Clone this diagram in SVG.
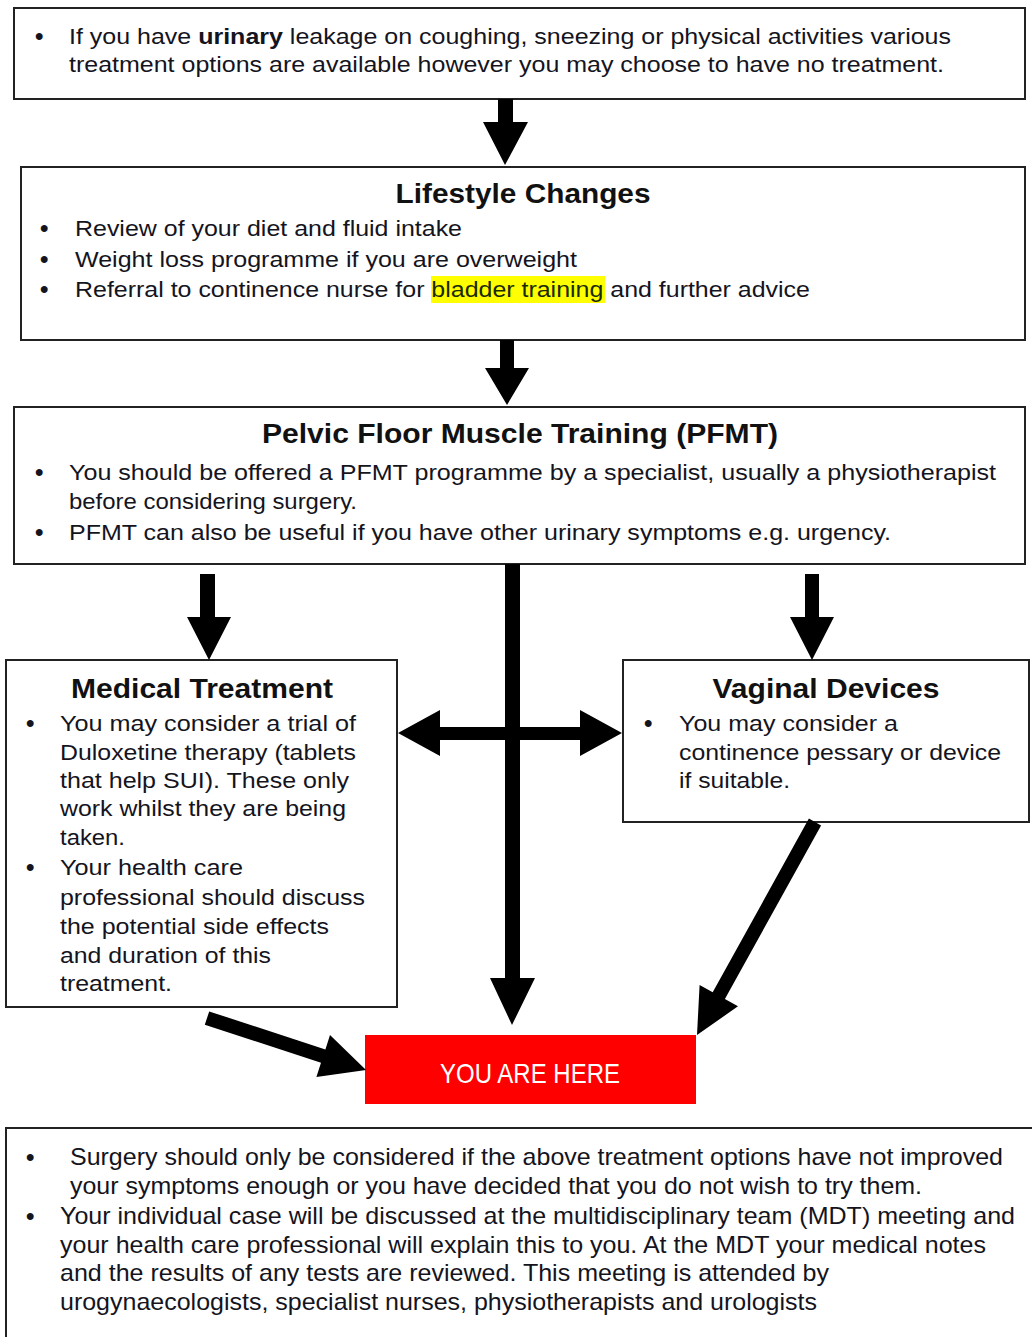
<svg xmlns="http://www.w3.org/2000/svg" width="1032" height="1337" viewBox="0 0 1032 1337">
<style>
.box{fill:#fff;stroke:#222;stroke-width:2}
.t{font-family:"Liberation Sans",Arial,sans-serif;font-size:22px;fill:#141420}
.b{font-family:"Liberation Sans",Arial,sans-serif;font-size:24px;font-weight:bold;fill:#141420}
.h{font-family:"Liberation Sans",Arial,sans-serif;font-size:27px;font-weight:bold;fill:#111;text-anchor:middle}
.n{font-family:"Liberation Sans",Arial,sans-serif;font-size:24px;fill:#141420}
.arrow{fill:#000}
</style>
<rect width="1032" height="1337" fill="#fff"/>
<g id="node-intro">
<rect class="box" x="14" y="8" width="1011" height="91"/>
<text class="b" x="35" y="44">•</text>
<text class="t" x="69" y="44" textLength="882" lengthAdjust="spacingAndGlyphs">If you have <tspan font-weight="bold">urinary</tspan> leakage on coughing, sneezing or physical activities various</text>
<text class="t" x="69" y="72" textLength="875" lengthAdjust="spacingAndGlyphs">treatment options are available however you may choose to have no treatment.</text>
</g>
<g id="node-lifestyle">
<rect class="box" x="21" y="167" width="1004" height="173"/>
<text class="h" x="523" y="203" textLength="255" lengthAdjust="spacingAndGlyphs">Lifestyle Changes</text>
<rect x="431" y="276" width="174" height="27" fill="#ffff00"/>
<text class="b" x="40" y="236">•</text>
<text class="t" x="75" y="236" textLength="387" lengthAdjust="spacingAndGlyphs">Review of your diet and fluid intake</text>
<text class="b" x="40" y="267">•</text>
<text class="t" x="75" y="267" textLength="502" lengthAdjust="spacingAndGlyphs">Weight loss programme if you are overweight</text>
<text class="b" x="40" y="297">•</text>
<text class="t" x="75" y="297" textLength="735" lengthAdjust="spacingAndGlyphs">Referral to continence nurse for <tspan fill="#1a2a00">bladder training</tspan> and further advice</text>
</g>
<g id="node-pfmt">
<rect class="box" x="14" y="407" width="1011" height="157"/>
<text class="h" x="520" y="443" textLength="516" lengthAdjust="spacingAndGlyphs">Pelvic Floor Muscle Training (PFMT)</text>
<text class="b" x="35" y="480">•</text>
<text class="t" x="69" y="480" textLength="927" lengthAdjust="spacingAndGlyphs">You should be offered a PFMT programme by a specialist, usually a physiotherapist</text>
<text class="t" x="69" y="509" textLength="288" lengthAdjust="spacingAndGlyphs">before considering surgery.</text>
<text class="b" x="35" y="540">•</text>
<text class="t" x="69" y="540" textLength="822" lengthAdjust="spacingAndGlyphs">PFMT can also be useful if you have other urinary symptoms e.g. urgency.</text>
</g>
<g id="node-medical">
<rect class="box" x="6" y="660" width="391" height="347"/>
<text class="h" x="202" y="698" textLength="262" lengthAdjust="spacingAndGlyphs">Medical Treatment</text>
<text class="b" x="26" y="731">•</text>
<text class="t" x="60" y="731" textLength="296" lengthAdjust="spacingAndGlyphs">You may consider a trial of</text>
<text class="t" x="60" y="760" textLength="296" lengthAdjust="spacingAndGlyphs">Duloxetine therapy (tablets</text>
<text class="t" x="60" y="788" textLength="289" lengthAdjust="spacingAndGlyphs">that help SUI). These only</text>
<text class="t" x="60" y="816" textLength="286" lengthAdjust="spacingAndGlyphs">work whilst they are being</text>
<text class="t" x="60" y="845" textLength="65" lengthAdjust="spacingAndGlyphs">taken.</text>
<text class="b" x="26" y="875">•</text>
<text class="t" x="60" y="875" textLength="183" lengthAdjust="spacingAndGlyphs">Your health care</text>
<text class="t" x="60" y="905" textLength="305" lengthAdjust="spacingAndGlyphs">professional should discuss</text>
<text class="t" x="60" y="934" textLength="269" lengthAdjust="spacingAndGlyphs">the potential side effects</text>
<text class="t" x="60" y="963" textLength="211" lengthAdjust="spacingAndGlyphs">and duration of this</text>
<text class="t" x="60" y="991" textLength="112" lengthAdjust="spacingAndGlyphs">treatment.</text>
</g>
<g id="node-vaginal">
<rect class="box" x="623" y="660" width="406" height="162"/>
<text class="h" x="826" y="698" textLength="227" lengthAdjust="spacingAndGlyphs">Vaginal Devices</text>
<text class="b" x="644" y="731">•</text>
<text class="t" x="679" y="731" textLength="219" lengthAdjust="spacingAndGlyphs">You may consider a</text>
<text class="t" x="679" y="760" textLength="322" lengthAdjust="spacingAndGlyphs">continence pessary or device</text>
<text class="t" x="679" y="788" textLength="111" lengthAdjust="spacingAndGlyphs">if suitable.</text>
</g>
<g id="node-here">
<rect x="365" y="1035" width="331" height="69" fill="#ff0000"/>
<text x="530" y="1083" text-anchor="middle" font-family="'Liberation Sans',Arial,sans-serif" font-size="28" fill="#fff" textLength="180" lengthAdjust="spacingAndGlyphs">YOU ARE HERE</text>
</g>
<g id="node-surgery">
<rect class="box" x="6" y="1128" width="1040" height="230"/>
<text class="b" x="26" y="1165">•</text>
<text class="n" x="70" y="1165" textLength="933" lengthAdjust="spacingAndGlyphs">Surgery should only be considered if the above treatment options have not improved</text>
<text class="n" x="70" y="1194" textLength="852" lengthAdjust="spacingAndGlyphs">your symptoms enough or you have decided that you do not wish to try them.</text>
<text class="b" x="26" y="1224">•</text>
<text class="n" x="60" y="1224" textLength="955" lengthAdjust="spacingAndGlyphs">Your individual case will be discussed at the multidisciplinary team (MDT) meeting and</text>
<text class="n" x="60" y="1253" textLength="926" lengthAdjust="spacingAndGlyphs">your health care professional will explain this to you. At the MDT your medical notes</text>
<text class="n" x="60" y="1281" textLength="769" lengthAdjust="spacingAndGlyphs">and the results of any tests are reviewed. This meeting is attended by</text>
<text class="n" x="60" y="1310" textLength="757" lengthAdjust="spacingAndGlyphs">urogynaecologists, specialist nurses, physiotherapists and urologists</text>
</g>
<g id="connectors">
<polygon class="arrow" points="498,99 513,99 513,122 528,122 505,165 483,122 498,122"/>
<polygon class="arrow" points="500,340 514,340 514,368 529,368 507,405 485,368 500,368"/>
<polygon class="arrow" points="200,574 215,574 215,617 231,617 209,660 187,617 200,617"/>
<polygon class="arrow" points="805,574 819,574 819,617 834,617 812,660 790,617 805,617"/>
<polygon class="arrow" points="505,564 520,564 520,978 535,978 512,1025 490,978 505,978"/>
<polygon class="arrow" points="398,733 440,710 440,727 580,727 580,710 622,733 580,756 580,740 440,740 440,756"/>
<polygon class="arrow" points="821.1,825.4 724.9,999.0 738.0,1006.3 697,1035 699.6,984.9 712.7,992.2 808.9,818.6"/>
<polygon class="arrow" points="204.8,1024.7 321.0,1062.7 316.4,1076.9 366,1070 330.0,1035.1 325.4,1049.4 209.2,1011.4"/>
</g>
</svg>
